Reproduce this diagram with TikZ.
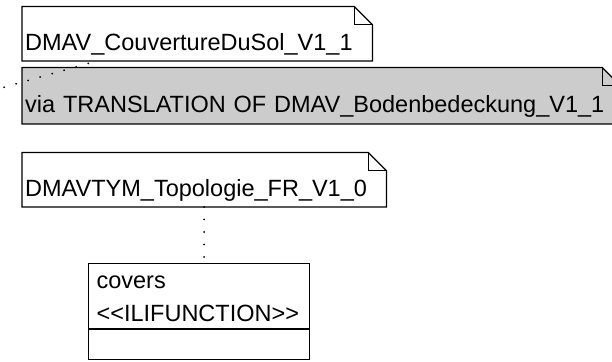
\documentclass[tikz,border=0pt]{standalone}
\usepackage{fontspec}
\setmainfont{Liberation Sans}
\usepackage{tikz}
\usetikzlibrary{backgrounds}
\usetikzlibrary{calc}

\tikzset{
	notebox/.style={inner xsep=3pt, inner ysep=0pt, align=left, font=\fontsize{23.5}{33}\selectfont},
	noteline/.style={draw=black, line width=1.2pt, line join=miter},
	dotline/.style={line width=2pt, line cap=round, dash pattern=on 0pt off 12.5pt}
}

\begin{document}
\begin{tikzpicture}[x=1pt, y=1pt]
\useasboundingbox (0,0) rectangle (612,361);
\clip (0,0) rectangle (612,361);
% notes
\node[notebox, anchor=south west, text width=344pt, text height=43.5pt, text depth=10.5pt] (cdsol) at (22,300) {DMAV\_CouvertureDuSol\_V1\_1};
\node[notebox, anchor=south west, text width=592pt, text height=45pt, text depth=11pt] (bodenb) at (22,237) {via TRANSLATION OF DMAV\_Bodenbedeckung\_V1\_1};
\node[notebox, anchor=south west, text width=358pt, text height=44pt, text depth=10pt] (topo) at (22,154) {DMAVTYM\_Topologie\_FR\_V1\_0};
% class
\node[notebox, noteline, inner xsep=8pt, anchor=north west, text width=205pt, text height=25pt, text depth=40pt] (covers) at (88,98) {covers\\<{}<ILIFUNCTION>{}>};
\node[noteline, inner sep=0pt, anchor=north west, minimum width=221pt, minimum height=30pt] (coversops) at (covers.south west) {};
\begin{scope}[on background layer]
\foreach \n/\f in {cdsol/white, bodenb/gray!40, topo/white} {
	\draw[noteline, fill=\f] (\n.south west) -- (\n.north west) -- ([xshift=-18pt]\n.north east)
		-- ([yshift=-18pt]\n.north east) -- (\n.south east) -- cycle;
	\draw[noteline] ([xshift=-18pt]\n.north east) |- ([yshift=-18pt]\n.north east);
}
\end{scope}
% links
\coordinate (offnote) at (-20,267);
\draw[dotline] (offnote) -- ([xshift=75pt]cdsol.south west);
\draw[dotline] (topo.south) -- (topo.south |- covers.north);
\end{tikzpicture}
\end{document}
